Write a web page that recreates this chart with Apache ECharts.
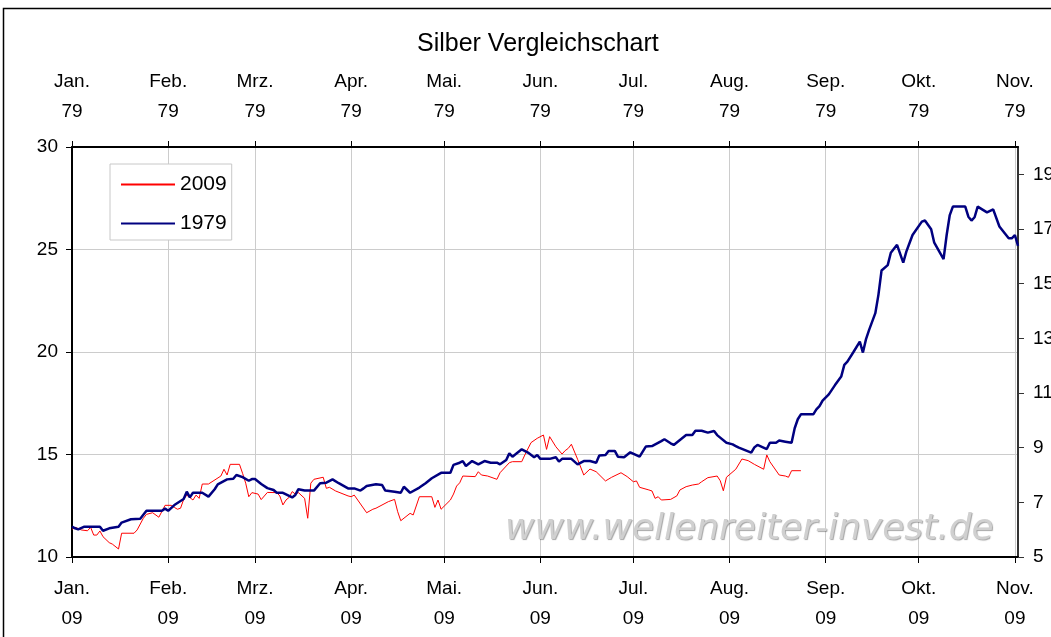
<!DOCTYPE html>
<html>
<head>
<meta charset="utf-8">
<script src="https://cdn.jsdelivr.net/npm/echarts@6/dist/echarts.min.js"></script>
<style>
html,body{margin:0;padding:0;background:#fff;}
#c{width:1051px;height:637px;}
</style>
</head>
<body>
<div id="c"></div>
<script>
// ---- data ----
const monthNames = ['Jan.','Feb.','Mrz.','Apr.','Mai.','Jun.','Jul.','Aug.','Sep.','Okt.','Nov.'];
const monthStarts = ['01-01','02-01','03-01','04-01','05-01','06-01','07-01','08-01','09-01','10-01','11-01'];
const axisEnd = '11-02';
const leftTicks = [10,15,20,25,30];
const rightTicks = [5,7,9,11,13,15,17,19];

const dates1979 = ['01-01','01-02','01-03','01-05','01-10','01-11','01-13','01-16','01-17','01-20','01-23','01-25','01-30','01-31',
'02-01','02-03','02-06','02-07','02-08','02-09','02-12','02-14','02-16','02-17','02-20','02-22','02-23','02-25','02-27','02-28',
'03-01','03-03','03-05','03-07','03-08','03-10','03-13','03-14','03-15','03-17','03-20','03-22','03-24','03-26','03-28','03-31',
'04-02','04-04','04-05','04-06','04-09','04-11','04-12','04-15','04-17','04-18','04-20','04-23','04-25','04-27','04-30',
'05-03','05-04','05-06','05-07','05-08','05-10','05-12','05-14','05-16','05-18','05-19','05-21','05-22','05-23','05-26','05-28','05-30','05-31',
'06-01','06-04','06-06','06-07','06-08','06-11','06-13','06-15','06-17','06-19','06-20','06-22','06-23','06-25','06-26','06-28','06-30',
'07-03','07-05','07-07','07-10','07-11','07-13','07-14','07-18','07-20','07-21','07-23','07-25','07-27','07-28','07-31',
'08-02','08-03','08-04','08-08','08-09','08-10','08-13','08-14','08-16','08-17','08-19','08-21','08-22','08-23','08-24','08-28','08-29','08-30','08-31',
'09-02','09-04','09-06','09-07','09-08','09-10','09-12','09-13','09-14','09-15','09-17','09-18','09-19','09-21','09-22','09-24','09-26','09-27','09-28','09-29',
'10-02','10-03','10-05','10-06','10-09','10-10','10-11','10-12','10-16','10-17','10-18','10-19','10-20','10-23','10-25','10-27','10-30','10-31',
'11-01','11-02'];
const silver1979 = [6.11,6.05,6.01,6.11,6.11,5.96,6.05,6.11,6.26,6.38,6.40,6.69,6.69,6.77,
6.69,6.90,7.12,7.39,7.18,7.35,7.35,7.21,7.48,7.66,7.84,7.86,8.00,7.92,7.79,7.85,
7.85,7.67,7.52,7.45,7.35,7.35,7.18,7.27,7.48,7.43,7.43,7.70,7.72,7.84,7.70,7.51,
7.51,7.43,7.51,7.60,7.66,7.63,7.43,7.39,7.35,7.57,7.35,7.54,7.70,7.88,8.08,
8.08,8.37,8.45,8.51,8.33,8.51,8.39,8.51,8.45,8.45,8.39,8.55,8.79,8.67,8.94,8.82,8.65,8.73,
8.59,8.59,8.65,8.49,8.59,8.59,8.39,8.51,8.51,8.45,8.71,8.73,8.88,8.88,8.67,8.65,8.83,
8.67,9.04,9.06,9.24,9.31,9.16,9.10,9.46,9.46,9.62,9.62,9.55,9.61,9.46,9.18,
9.12,9.06,9.00,8.82,9.01,9.10,8.95,9.18,9.18,9.26,9.22,9.18,9.71,10.04,10.22,10.22,10.40,10.52,10.72,
10.95,11.29,11.60,12.03,12.15,12.51,12.88,12.48,12.97,13.31,13.92,14.59,15.48,15.68,16.13,16.42,15.77,16.17,16.48,16.78,
17.27,17.31,16.99,16.50,15.90,16.78,17.51,17.82,17.82,17.45,17.31,17.43,17.82,17.61,17.72,17.09,16.66,16.66,
16.78,16.38];

const dates2009 = ['01-01','01-02','01-04','01-06','01-07','01-08','01-09','01-10','01-11','01-13','01-14','01-16','01-17','01-21','01-22','01-24','01-25','01-27','01-29','01-31',
'02-02','02-03','02-04','02-05','02-06','02-07','02-09','02-10','02-11','02-12','02-14','02-18','02-19','02-20','02-21','02-24','02-25','02-26','02-27','02-28',
'03-02','03-03','03-05','03-08','03-09','03-10','03-11','03-12','03-13','03-14','03-15','03-17','03-18','03-19','03-20','03-23','03-24','03-25','03-27','03-31',
'04-01','04-02','04-06','04-08','04-09','04-13','04-15','04-16','04-17','04-20','04-21','04-23','04-27','04-28','04-29','04-30',
'05-03','05-04','05-05','05-06','05-07','05-11','05-12','05-13','05-15','05-18','05-19','05-22','05-23','05-26','05-27','05-29','05-31',
'06-02','06-03','06-04','06-06','06-08','06-09','06-10','06-11','06-13','06-15','06-17','06-19','06-22','06-24','06-27','06-29',
'07-01','07-02','07-03','07-06','07-07','07-08','07-09','07-10','07-13','07-15','07-16','07-18','07-20','07-22','07-23','07-25','07-28','07-29','07-30','07-31',
'08-03','08-05','08-07','08-09','08-12','08-13','08-14','08-17','08-19','08-20','08-21','08-24'];
const silver2009 = [11.35,11.45,11.32,11.28,11.45,11.07,11.07,11.27,10.99,10.70,10.63,10.39,11.16,11.16,11.32,11.89,12.08,12.16,11.94,12.52,
12.52,12.42,12.33,12.38,12.81,13.02,12.78,13.02,12.86,13.56,13.56,13.95,14.28,14.00,14.52,14.52,14.08,13.60,12.94,13.14,
13.07,12.80,13.15,13.14,12.98,12.54,12.78,12.91,13.19,13.07,13.14,12.86,11.89,13.60,13.79,13.89,13.35,13.40,13.22,12.98,
12.94,13.02,12.16,12.33,12.38,12.70,12.81,12.21,11.77,12.13,12.05,12.94,12.94,12.42,12.78,12.33,
12.78,13.07,13.46,13.62,13.95,13.92,14.16,14.00,13.95,13.79,14.11,14.60,14.65,14.65,14.98,15.58,15.79,
15.95,15.25,15.87,15.38,15.02,15.19,15.30,15.50,14.77,14.00,14.29,14.16,13.71,13.89,14.11,13.92,
13.67,13.71,13.40,13.27,13.22,12.86,12.94,12.78,12.81,12.98,13.27,13.43,13.51,13.56,13.67,13.87,13.95,13.72,13.23,13.89,
14.28,14.78,14.70,14.52,14.28,14.98,14.65,14.00,13.95,13.89,14.21,14.21];

// ---- helpers (date string -> UTC timestamp) ----
const ts = (y, md) => { const p = md.split('-'); return Date.UTC(y, +p[0] - 1, +p[1]); };
const FONT = '"Liberation Sans", Arial, sans-serif';
const fmt = yy => v => monthNames[new Date(v).getUTCMonth()] + '\n' + yy;
const axisCol = '#000';
const gridCol = '#cccccc';
const ticks09 = monthStarts.map(m => ts(2009, m));
const ticks79 = monthStarts.map(m => ts(1979, m));

const chart = echarts.init(document.getElementById('c'), null, {renderer: 'canvas'});
chart.setOption({
  animation: false,
  backgroundColor: '#fff',
  textStyle: {fontFamily: FONT},
  title: {
    text: 'Silber Vergleichschart', left: 412, top: 27,
    textStyle: {fontFamily: FONT, fontSize: 25, fontWeight: 'normal', color: '#000'}
  },
  legend: {
    orient: 'vertical', left: 110, top: 164,
    padding: [10, 5, 6, 10], itemWidth: 54, itemHeight: 20, itemGap: 18,
    backgroundColor: '#fff', borderColor: '#c8c8c8', borderWidth: 1,
    itemStyle: {opacity: 0},
    textStyle: {fontFamily: FONT, fontSize: 21, color: '#000'},
    data: ['2009', '1979']
  },
  grid: {left: 72, right: 33, top: 147, bottom: 80, containLabel: false, outerBoundsMode: 'none'},
  xAxis: [
    {
      type: 'value', position: 'bottom', min: ts(2009, monthStarts[0]), max: ts(2009, axisEnd),
      axisLine: {show: true, lineStyle: {color: axisCol, width: 2}},
      axisTick: {show: true, customValues: ticks09, length: 6, lineStyle: {color: axisCol, width: 1}},
      axisLabel: {customValues: ticks09, formatter: fmt('09'), fontFamily: FONT, fontSize: 19, lineHeight: 30, margin: 17, color: '#000'},
      splitLine: {show: true, lineStyle: {color: gridCol, width: 1}}
    },
    {
      type: 'value', position: 'top', min: ts(1979, monthStarts[0]), max: ts(1979, axisEnd),
      axisLine: {show: true, lineStyle: {color: axisCol, width: 2}},
      axisTick: {show: true, customValues: ticks79, length: 6, lineStyle: {color: axisCol, width: 1}},
      axisLabel: {customValues: ticks79, formatter: fmt('79'), fontFamily: FONT, fontSize: 19, lineHeight: 30, margin: 20, color: '#000'},
      splitLine: {show: false}
    }
  ],
  yAxis: [
    {
      type: 'value', position: 'left', min: 10, max: 30, interval: 5,
      axisLine: {show: true, lineStyle: {color: axisCol, width: 2}},
      axisTick: {show: true, length: 6, lineStyle: {color: axisCol}},
      axisLabel: {fontFamily: FONT, fontSize: 19, margin: 14, color: '#000'},
      splitLine: {show: true, lineStyle: {color: gridCol, width: 1}}
    },
    {
      type: 'value', position: 'right', min: 5, max: 20,
      axisLine: {show: true, lineStyle: {color: '#333', width: 2}},
      axisTick: {show: true, customValues: rightTicks, length: 6, lineStyle: {color: '#333'}},
      axisLabel: {customValues: rightTicks, fontFamily: FONT, fontSize: 19, margin: 15, color: '#000'},
      splitLine: {show: false}
    }
  ],
  graphic: [
    {type: 'rect', shape: {x: 3.5, y: 8.5, width: 1200, height: 800}, style: {fill: 'none', stroke: '#000', lineWidth: 1.5}, z: 100, silent: true},
    {type: 'text', left: 505, top: 512, z: 1, silent: true,
     style: {text: 'www.wellenreiter-invest.de', font: 'italic 36px "DejaVu Sans", sans-serif', fill: '#d0d0d0',
             textShadowColor: 'rgba(80,80,80,0.5)', textShadowOffsetX: 1, textShadowOffsetY: 1, textShadowBlur: 1}}
  ],
  series: [
    {
      name: '2009', type: 'line', xAxisIndex: 0, yAxisIndex: 0, symbol: 'none', z: 3,
      lineStyle: {color: '#ff0000', width: 1}, itemStyle: {color: '#ff0000'},
      data: dates2009.map((d, i) => [ts(2009, d), silver2009[i]])
    },
    {
      name: '1979', type: 'line', xAxisIndex: 1, yAxisIndex: 1, symbol: 'none', z: 4,
      lineStyle: {color: '#000080', width: 2.5}, itemStyle: {color: '#000080'},
      data: dates1979.map((d, i) => [ts(1979, d), silver1979[i]])
    }
  ]
});
</script>
</body>
</html>
